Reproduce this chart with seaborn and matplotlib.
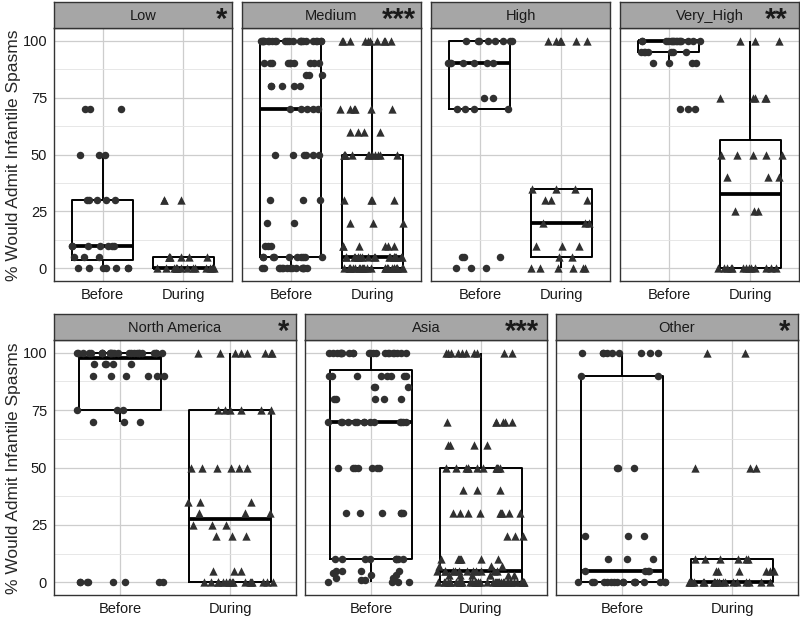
import numpy as np
import pandas as pd
import seaborn as sns
import matplotlib.pyplot as plt

sns.set_style('white')
plt.rcParams['font.family'] = ['Liberation Sans', 'DejaVu Sans']

periods = ['Before', 'During']
ylabel = '% Would Admit Infantile Spasms'

# --- data (values in % would admit) ---
# top row: income groups
low_before = [0]*7 + [5]*3 + [10]*7 + [30]*5 + [50]*3 + [70]*3
low_during = [0]*14 + [5]*7 + [30]*3
med_before = ([0]*15 + [5]*10 + [10]*3 + [20]*2 + [30]*3 + [50]*6 + [70]*5
              + [80]*5 + [85]*3 + [90]*10 + [100]*24)
med_during = ([0]*26 + [5]*20 + [10]*6 + [20]*3 + [30]*4 + [50]*12 + [60]*4
              + [70]*6 + [100]*10)
high_before = [0]*3 + [5]*3 + [70]*4 + [75]*2 + [90]*7 + [100]*8
high_during = [0]*6 + [5]*2 + [10]*3 + [20]*3 + [30]*3 + [35]*3 + [100]*6
vhigh_before = [70]*3 + [90]*4 + [95]*7 + [100]*16
vhigh_during = [0]*13 + [25]*3 + [40]*3 + [50]*5 + [75]*5 + [100]*3

# bottom row: regions
na_before = [0]*8 + [70]*3 + [75]*3 + [90]*6 + [95]*5 + [100]*25
na_during = ([0]*17 + [5]*3 + [20]*3 + [25]*3 + [30]*3 + [35]*3 + [50]*6
             + [75]*6 + [100]*8)
asia_before = ([0, 0, 0, 0, 1, 1, 2, 2, 3, 3, 4, 5, 5, 5, 5] + [10]*8 + [30]*6
               + [50]*7 + [70]*14 + [80]*5 + [85]*3 + [90]*8 + [100]*22)
asia_during = ([0]*42 + [3]*6 + [5]*12 + [7]*3 + [10]*7 + [20]*3 + [30]*9
               + [40]*3 + [50]*12 + [60]*4 + [70]*6 + [100]*10)
other_before = [0]*17 + [5]*4 + [10]*3 + [20]*3 + [50]*3 + [90]*2 + [100]*9
other_during = [0]*20 + [5]*6 + [10]*6 + [50]*3 + [100]*2

titles = ['Low', 'Medium', 'High', 'Very_High', 'North America', 'Asia', 'Other']
stars = ['*', '***', '', '**', '*', '***', '*']
before = [low_before, med_before, high_before, vhigh_before,
          na_before, asia_before, other_before]
during = [low_during, med_during, high_during, vhigh_during,
          na_during, asia_during, other_during]

# panel boxes in pixels: left, right, top, bottom (plot area)
W, H = 800, 619
boxes = [(54, 232, 28, 281), (242, 421, 28, 281), (431, 610, 28, 281), (620, 799, 28, 281),
         (54, 296, 340, 595), (305, 547, 340, 595), (556, 798, 340, 595)]
strip_h = 26
star_x = [0.941, 0.874, 0.0, 0.872, 0.950, 0.895, 0.946]

fig = plt.figure(figsize=(8, 6.19), dpi=100)
np.random.seed(3)

for i in range(7):
    l, r, t, b = boxes[i]
    ax = fig.add_axes([l / W, 1 - b / H, (r - l) / W, (b - t) / H])
    df = pd.DataFrame({'period': ['Before'] * len(before[i]) + ['During'] * len(during[i]),
                       'value': before[i] + during[i]})

    sns.boxplot(data=df, x='period', y='value', order=periods, ax=ax,
                fill=False, color='black', linewidth=1.4, width=0.75,
                showfliers=False, showcaps=False,
                medianprops={'linewidth': 2.7}, zorder=2)
    sns.stripplot(data=df[df.period == 'Before'], x='period', y='value', order=periods,
                  ax=ax, jitter=0.4, marker='o', size=5.4, color='#303030',
                  linewidth=0, zorder=3)
    sns.stripplot(data=df[df.period == 'During'], x='period', y='value', order=periods,
                  ax=ax, jitter=0.4, marker='^', size=6.0, color='#303030',
                  linewidth=0, zorder=3)

    ax.set_xlim(-0.6, 1.6)
    ax.set_ylim(-5.5, 105.5)
    ax.set_yticks([0, 25, 50, 75, 100])
    ax.set_yticks([12.5, 37.5, 62.5, 87.5], minor=True)
    ax.grid(True, which='major', color='#cdcdcd', linewidth=0.9)
    ax.grid(True, which='minor', axis='y', color='#e3e3e3', linewidth=0.6)
    ax.set_axisbelow(True)
    ax.set_xlabel('')
    ax.set_ylabel('')
    for s in ax.spines.values():
        s.set_color('#333333')
        s.set_linewidth(1.0)
    ax.tick_params(axis='x', which='major', length=3, width=0.8, color='#333333',
                   labelsize=10.5, pad=2, labelcolor='#1a1a1a')
    ax.tick_params(axis='y', which='minor', length=0)
    if i in (0, 4):
        ax.tick_params(axis='y', which='major', length=3, width=0.8, color='#333333',
                       labelsize=10.5, pad=2, labelcolor='#1a1a1a')
    else:
        ax.tick_params(axis='y', which='major', length=0, labelleft=False)

    # facet strip
    sax = fig.add_axes([l / W, 1 - t / H, (r - l) / W, strip_h / H])
    sax.set_facecolor('#a6a6a6')
    sax.set_xticks([])
    sax.set_yticks([])
    for s in sax.spines.values():
        s.set_color('#333333')
        s.set_linewidth(1.0)
    sax.text(0.5, 0.48, titles[i], ha='center', va='center', fontsize=10.5,
             color='#1a1a1a', transform=sax.transAxes)
    if stars[i]:
        sax.text(star_x[i], 0.3, stars[i], ha='center', va='center', fontsize=21,
                 fontweight='bold', color='#1a1a1a', transform=sax.transAxes)

fig.text(14 / W, 1 - 155 / H, ylabel, rotation=90, ha='center', va='center', fontsize=12.5)
fig.text(14 / W, 1 - 468 / H, ylabel, rotation=90, ha='center', va='center', fontsize=12.5)

fig.savefig('out.png', dpi=100)
